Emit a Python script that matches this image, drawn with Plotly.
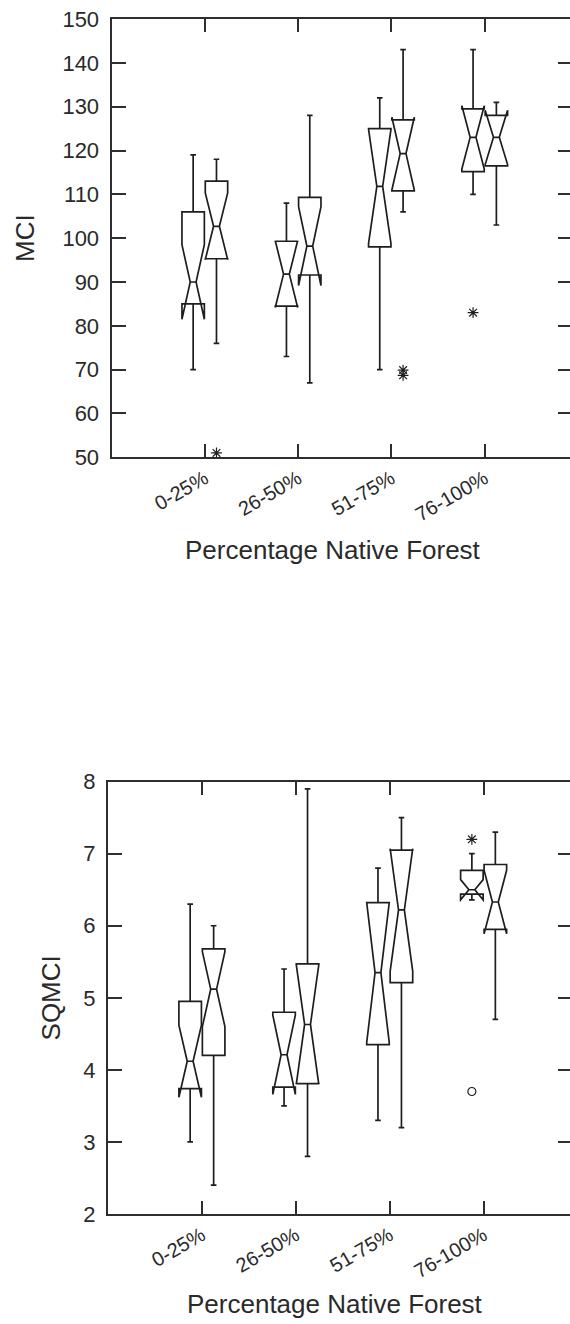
import plotly.graph_objects as go

# Land-use classes (percentage of native forest in the catchment)
categories = ["0-25%", "26-50%", "51-75%", "76-100%"]
positions = [1, 2, 3, 4]

# MCI summaries: left box (A) and right box (B) in each class
mci_a_low = [70, 73, 70, 110]
mci_a_q1 = [85, 84.5, 98, 115.2]
mci_a_med = [90, 91.8, 111.8, 123]
mci_a_q3 = [106, 99.3, 125, 129.5]
mci_a_high = [119, 108, 132, 143]
mci_a_notch = [8.5, 7.6, 13, 7.2]

mci_b_low = [76, 67, 106, 103]
mci_b_q1 = [95.3, 91.6, 110.8, 116.5]
mci_b_med = [102.7, 98.2, 119.3, 123]
mci_b_q3 = [113, 109.3, 127, 128]
mci_b_high = [118, 128, 143, 131]
mci_b_notch = [7.6, 9, 8.3, 6.2]

# MCI outside values: (class index, value)
mci_a_out_cls = [4]
mci_a_out_val = [83]
mci_b_out_cls = [1, 3, 3]
mci_b_out_val = [51, 69.9, 68.7]

# SQMCI summaries
sq_a_low = [3.0, 3.5, 3.3, 6.4]
sq_a_q1 = [3.74, 3.76, 4.35, 6.44]
sq_a_med = [4.12, 4.21, 5.35, 6.5]
sq_a_q3 = [4.95, 4.8, 6.32, 6.77]
sq_a_high = [6.3, 5.4, 6.8, 7.0]
sq_a_notch = [0.5, 0.55, 0.97, 0.14]

sq_b_low = [2.4, 2.8, 3.2, 4.7]
sq_b_q1 = [4.2, 3.81, 5.21, 5.95]
sq_b_med = [5.12, 4.63, 6.22, 6.33]
sq_b_q3 = [5.68, 5.47, 7.05, 6.85]
sq_b_high = [6.0, 7.9, 7.5, 7.3]
sq_b_notch = [0.52, 0.83, 0.85, 0.44]

# SQMCI outside (*) and far-outside (o) values
sq_a_out_cls = [4]
sq_a_out_val = [7.2]
sq_a_far_cls = [4]
sq_a_far_val = [3.7]

X_TITLE = "Percentage Native Forest"

OFFSET = 0.125
BOX_W = 0.24
INK = "#1e1e1e"
AXIS = "#2e2e2e"
TEXT = "#2a2a2a"
FONT = "Liberation Sans, Arial, sans-serif"

fig = go.Figure()


def add_boxes(shift, low, q1, med, q3, high, notch, xa, ya):
    fig.add_trace(go.Box(
        x=[p + shift for p in positions],
        lowerfence=low, q1=q1, median=med, q3=q3, upperfence=high,
        notchspan=notch, notched=True, notchwidth=0.37,
        whiskerwidth=0.25, width=BOX_W, orientation="v",
        boxpoints=False, fillcolor="rgba(0,0,0,0)",
        line=dict(color=INK, width=1.7),
        showlegend=False, hoverinfo="skip", xaxis=xa, yaxis=ya,
    ))


def add_points(shift, cls, vals, symbol, size, xa, ya):
    fig.add_trace(go.Scatter(
        x=[c + shift for c in cls], y=vals, mode="markers",
        marker=dict(symbol=symbol, size=size, color=INK,
                    line=dict(color=INK, width=1.2)),
        cliponaxis=False, showlegend=False, hoverinfo="skip",
        xaxis=xa, yaxis=ya,
    ))


add_boxes(-OFFSET, mci_a_low, mci_a_q1, mci_a_med, mci_a_q3, mci_a_high, mci_a_notch, "x", "y")
add_boxes(+OFFSET, mci_b_low, mci_b_q1, mci_b_med, mci_b_q3, mci_b_high, mci_b_notch, "x", "y")
add_points(-OFFSET, mci_a_out_cls, mci_a_out_val, "asterisk-open", 9, "x", "y")
add_points(+OFFSET, mci_b_out_cls, mci_b_out_val, "asterisk-open", 9, "x", "y")

add_boxes(-OFFSET, sq_a_low, sq_a_q1, sq_a_med, sq_a_q3, sq_a_high, sq_a_notch, "x2", "y2")
add_boxes(+OFFSET, sq_b_low, sq_b_q1, sq_b_med, sq_b_q3, sq_b_high, sq_b_notch, "x2", "y2")
add_points(-OFFSET, sq_a_out_cls, sq_a_out_val, "asterisk-open", 9, "x2", "y2")
add_points(-OFFSET, sq_a_far_cls, sq_a_far_val, "circle-open", 8, "x2", "y2")

# placeholders so the right-hand tick axes are drawn
fig.add_trace(go.Scatter(x=[None], y=[None], xaxis="x", yaxis="y3", showlegend=False))
fig.add_trace(go.Scatter(x=[None], y=[None], xaxis="x2", yaxis="y4", showlegend=False))

mci_ticks = list(range(50, 151, 10))
sq_ticks = list(range(2, 9))

xcommon = dict(
    tickmode="array", tickvals=positions, ticktext=categories,
    tickangle=-30, ticks="inside", ticklen=13, tickwidth=1.6, tickcolor=AXIS,
    showline=True, linecolor=AXIS, linewidth=2, mirror="ticks",
    showgrid=False, zeroline=False,
    tickfont=dict(family=FONT, size=20, color=TEXT),
)
ycommon = dict(
    ticks="inside", ticklen=14, tickwidth=1.6, tickcolor=AXIS,
    showline=True, linecolor=AXIS, linewidth=2, mirror=False,
    showgrid=False, zeroline=False, ticklabelstandoff=6,
    tickfont=dict(family=FONT, size=22, color=TEXT),
)
yright = dict(
    ticks="inside", ticklen=12, tickwidth=1.6, tickcolor=AXIS,
    showline=False, showgrid=False, zeroline=False, showticklabels=False,
    side="right",
)

# x-axis titles placed under each panel
title_font = dict(family=FONT, size=26, color=TEXT)
annotations = [
    dict(text=X_TITLE, xref="paper", yref="paper", x=0.487, y=0.5556,
         xanchor="center", yanchor="middle", showarrow=False, font=title_font),
    dict(text=X_TITLE, xref="paper", yref="paper", x=0.491, y=-0.0895,
         xanchor="center", yanchor="bottom", showarrow=False, font=title_font),
]

fig.update_layout(
    template="none",
    width=570, height=1324,
    margin=dict(l=108, r=0, t=19, b=110),
    paper_bgcolor="white", plot_bgcolor="white",
    boxmode="overlay",
    font=dict(family=FONT, color=TEXT),
    annotations=annotations,
    xaxis=dict(xcommon, domain=[0.0076, 1], anchor="y", range=[0, 4.914]),
    yaxis=dict(ycommon, domain=[0.6332, 1], anchor="x", range=[50, 150],
               tickmode="array", tickvals=mci_ticks,
               title=dict(text="MCI", font=title_font, standoff=20)),
    yaxis3=dict(yright, overlaying="y", anchor="x", range=[50, 150],
                tickmode="array", tickvals=mci_ticks),
    xaxis2=dict(xcommon, domain=[0, 1], anchor="y2", range=[0, 4.92]),
    yaxis2=dict(ycommon, domain=[0, 0.3618], anchor="x2", range=[2, 8],
                tickmode="array", tickvals=sq_ticks,
                title=dict(text="SQMCI", font=title_font, standoff=15)),
    yaxis4=dict(yright, overlaying="y2", anchor="x2", range=[2, 8],
                tickmode="array", tickvals=sq_ticks),
)

fig.write_html("out.html")
